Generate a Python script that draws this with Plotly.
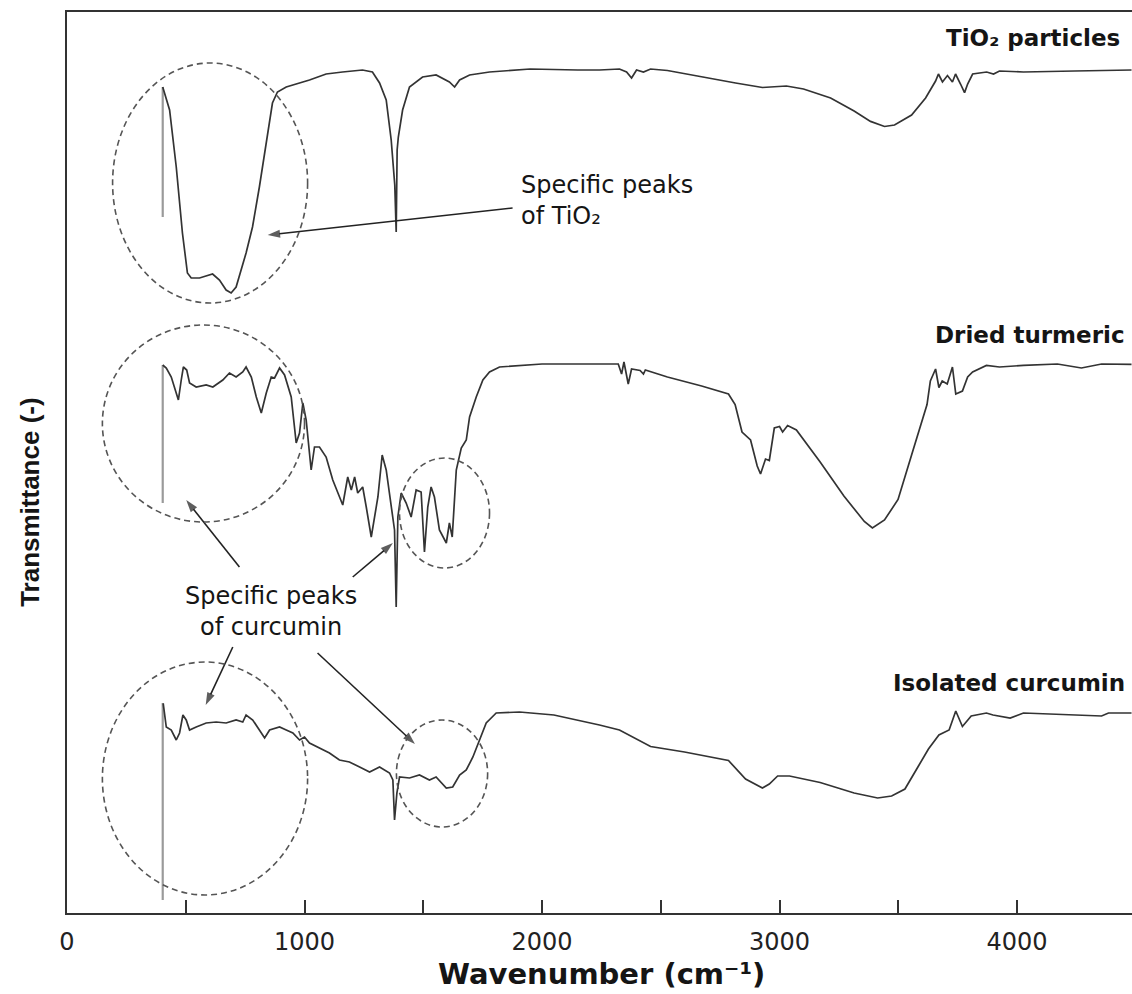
import plotly.graph_objects as go

# FTIR spectra (wavenumber in cm-1, transmittance in arbitrary offset units)
tio2_wn = [403, 432, 460, 486, 507, 523, 558, 613, 642, 670,
           691, 712, 754, 781, 810, 839, 865, 886, 923, 1021,
           1091, 1160, 1244, 1286, 1316, 1344, 1365, 1380, 1386, 1390,
           1395, 1413, 1442, 1497, 1554, 1610, 1632, 1653, 1695, 1779,
           1950, 2150, 2242, 2326, 2356, 2377, 2398, 2427, 2457, 2528,
           2672, 2815, 2928, 3029, 3101, 3215, 3314, 3383, 3442, 3484,
           3556, 3615, 3657, 3669, 3686, 3707, 3728, 3741, 3762, 3779,
           3792, 3813, 3872, 3901, 3926, 4027, 4242, 4482]
tio2_t = [82.6, 80.3, 74.6, 68.0, 64.0, 63.5, 63.5, 63.9, 63.3, 62.3,
          62.0, 62.6, 66.0, 68.6, 72.6, 77.3, 81.0, 82.1, 82.6, 83.3,
          83.9, 84.1, 84.3, 84.1, 83.0, 81.3, 77.3, 72.8, 68.1, 76.3,
          77.6, 80.3, 82.6, 83.6, 83.8, 83.1, 82.6, 83.3, 83.8, 84.1,
          84.4, 84.3, 84.3, 84.4, 84.1, 83.5, 84.3, 84.1, 84.4, 84.25,
          83.6, 83.0, 82.55, 82.7, 82.4, 81.5, 80.2, 79.16, 78.65, 78.8,
          79.8, 81.5, 83.2, 83.9, 83.1, 83.74, 83.1, 83.9, 82.9, 82.04,
          82.9, 83.9, 84.1, 83.9, 84.2, 84.1, 84.2, 84.3]

turmeric_wn = [403, 418, 439, 460, 469, 481, 490, 504, 516, 544,
               586, 614, 656, 684, 712, 740, 754, 776, 797, 818,
               839, 860, 874, 895, 916, 944, 965, 979, 993, 1007,
               1028, 1042, 1063, 1091, 1119, 1161, 1182, 1197, 1211, 1224,
               1245, 1260, 1281, 1309, 1327, 1344, 1365, 1379, 1386, 1393,
               1407, 1428, 1449, 1470, 1491, 1505, 1519, 1533, 1547, 1568,
               1597, 1610, 1622, 1639, 1660, 1681, 1695, 1723, 1751, 1779,
               1821, 2000, 2150, 2242, 2321, 2335, 2345, 2363, 2377, 2413,
               2427, 2435, 2528, 2672, 2785, 2813, 2842, 2878, 2906, 2920,
               2941, 2957, 2978, 3000, 3013, 3034, 3071, 3171, 3271, 3357,
               3391, 3442, 3499, 3556, 3600, 3621, 3635, 3657, 3671, 3685,
               3706, 3728, 3742, 3770, 3792, 3813, 3871, 3926, 4027, 4170,
               4271, 4356, 4482]
turmeric_t = [54.8, 54.5, 53.6, 52.0, 51.3, 53.3, 54.6, 54.3, 53.0, 52.6,
              52.8, 52.6, 53.3, 54.0, 53.6, 54.1, 54.6, 53.6, 51.6, 50.0,
              52.0, 53.6, 53.5, 54.5, 53.8, 51.6, 47.0, 48.0, 51.0, 49.3,
              44.3, 46.6, 46.6, 45.6, 43.3, 40.8, 43.6, 42.3, 43.6, 42.0,
              42.6, 40.6, 37.6, 41.6, 45.8, 44.3, 41.0, 38.3, 30.6, 39.6,
              42.0, 41.0, 39.6, 42.3, 42.1, 36.1, 40.6, 42.6, 41.6, 38.3,
              37.0, 39.0, 37.6, 44.3, 46.5, 47.3, 49.6, 51.6, 53.3, 54.1,
              54.6, 54.9, 54.9, 54.9, 54.9, 53.9, 55.1, 52.9, 54.4, 54.25,
              53.9, 54.3, 53.6, 52.7, 51.9, 50.85, 48.1, 47.3, 44.7, 43.9,
              45.4, 45.25, 48.5, 48.65, 48.1, 48.75, 48.3, 45.1, 41.7, 39.15,
              38.5, 39.3, 41.35, 45.8, 49.2, 50.85, 53.2, 54.4, 52.55, 53.2,
              52.9, 54.6, 51.9, 52.2, 53.6, 54.1, 54.76, 54.6, 54.76, 54.9,
              54.5, 54.9, 54.86]

curcumin_wn = [405, 418, 439, 460, 474, 488, 502, 516, 544, 586,
               628, 670, 712, 740, 754, 782, 810, 832, 853, 895,
               923, 951, 979, 1000, 1021, 1063, 1105, 1147, 1189, 1232,
               1274, 1316, 1358, 1372, 1379, 1389, 1400, 1442, 1484, 1526,
               1554, 1597, 1624, 1653, 1681, 1709, 1737, 1765, 1807, 1905,
               2050, 2150, 2242, 2326, 2457, 2600, 2785, 2857, 2928, 2957,
               2992, 3042, 3171, 3314, 3413, 3472, 3528, 3585, 3627, 3671,
               3714, 3742, 3770, 3807, 3871, 3899, 3971, 4027, 4242, 4356,
               4385, 4482]
curcumin_t = [20.97, 18.6, 18.3, 17.3, 18.0, 19.8, 19.3, 18.3, 18.6, 19.0,
              19.1, 19.0, 19.3, 19.1, 19.8, 19.3, 18.3, 17.5, 18.3, 18.6,
              18.3, 18.0, 17.3, 17.6, 17.0, 16.5, 16.0, 15.3, 15.1, 14.6,
              14.1, 14.6, 14.0, 13.3, 9.3, 12.0, 13.6, 13.5, 13.8, 13.3,
              13.6, 12.5, 12.6, 13.8, 14.3, 15.6, 17.3, 19.0, 20.0, 20.1,
              19.8, 19.3, 18.8, 18.3, 16.65, 16.1, 15.25, 13.4, 12.5, 12.9,
              13.7, 13.7, 13.05, 12.0, 11.5, 11.7, 12.4, 14.7, 16.4, 17.8,
              18.3, 20.2, 18.65, 19.7, 20.0, 19.8, 19.5, 20.0, 19.8, 19.7,
              20.0, 20.0]

# start-of-scan baseline jumps at the low-wavenumber end
edge_wn = 403
tio2_edge = [82.6, 69.6]
turmeric_edge = [54.8, 41.0]
curcumin_edge = [21.0, 1.3]

x_ticks = [0, 1000, 2000, 3000, 4000]

LINE = "#333333"
EDGE = "#9a9a9a"

fig = go.Figure()
for edge in (tio2_edge, turmeric_edge, curcumin_edge):
    fig.add_trace(go.Scatter(x=[edge_wn, edge_wn], y=edge, mode="lines",
                             line=dict(color=EDGE, width=2.2), hoverinfo="skip"))
for wn, t in ((tio2_wn, tio2_t), (turmeric_wn, turmeric_t), (curcumin_wn, curcumin_t)):
    fig.add_trace(go.Scatter(x=wn, y=t, mode="lines",
                             line=dict(color=LINE, width=1.7)))

# dashed rings around the characteristic bands
rings = [
    (192, 1013, 61.0, 85.0),
    (149, 1000, 39.1, 58.8),
    (1400, 1779, 34.5, 45.5),
    (149, 1013, 1.8, 25.1),
    (1387, 1771, 8.6, 19.3),
]
for x0, x1, y0, y1 in rings:
    fig.add_shape(type="circle", xref="x", yref="y", x0=x0, x1=x1, y0=y0, y1=y1,
                  line=dict(color="#555555", width=1.6, dash="6px,4px"))

# pointer arrows: (tail_x, tail_y, head_x, head_y); the head marker sits just short of the tip
arrows = [
    (1876, 70.5, 845, 67.8),
    (726, 34.6, 502, 41.3),
    (1203, 33.6, 1372, 37.0),
    (698, 26.6, 584, 20.8),
    (1055, 26.0, 1465, 16.9),
]
for tx, ty, hx, hy in arrows:
    fig.add_trace(go.Scatter(
        x=[tx, hx], y=[ty, hy], mode="lines+markers",
        line=dict(color="#222222", width=1.6),
        marker=dict(symbol="arrow", angleref="previous", size=[0, 13],
                    color="#1a1a1a", line=dict(width=0)),
        hoverinfo="skip"))

TXT = "#151515"
fig.add_annotation(x=1905, y=71.3, xref="x", yref="y", xanchor="left", yanchor="middle",
                   align="left", showarrow=False,
                   text="Specific peaks<br>of TiO₂",
                   font=dict(family="DejaVu Sans", size=24, color=TXT))
fig.add_annotation(x=857, y=30.2, xref="x", yref="y", xanchor="center", yanchor="middle",
                   align="center", showarrow=False,
                   text="Specific peaks<br>of curcumin",
                   font=dict(family="DejaVu Sans", size=24, color=TXT))

series_labels = [
    (4440, 87.5, "TiO₂ particles"),
    (4461, 57.8, "Dried turmeric"),
    (4465, 23.0, "Isolated curcumin"),
]
for lx, ly, txt in series_labels:
    fig.add_annotation(x=lx, y=ly, xref="x", yref="y", xanchor="right", yanchor="middle",
                       showarrow=False, text=txt,
                       font=dict(family="DejaVu Sans", size=23, color=TXT, weight="bold"))

# axis titles
fig.add_annotation(x=0.502, y=-0.068, xref="paper", yref="paper", xanchor="center",
                   yanchor="middle", showarrow=False,
                   text="Wavenumber (cm⁻¹)",
                   font=dict(family="DejaVu Sans", size=29, color=TXT, weight="bold"))
fig.add_annotation(x=-0.035, y=0.456, xref="paper", yref="paper", xanchor="center",
                   yanchor="middle", showarrow=False, textangle=-90,
                   text="Transmittance (-)",
                   font=dict(family="Liberation Sans", size=26, color=TXT, weight="bold"))

fig.update_layout(
    width=1132, height=994,
    margin=dict(l=67, r=0, t=12, b=81),
    paper_bgcolor="white", plot_bgcolor="white",
    showlegend=False,
    xaxis=dict(range=[0, 4484], tickvals=x_ticks, ticktext=[str(v) for v in x_ticks],
               ticks="inside", ticklen=13, tickwidth=1.5, tickcolor="#333333",
               ticklabelstandoff=6,
               minor=dict(dtick=500, tick0=0, ticks="inside", ticklen=13,
                          tickwidth=1.5, tickcolor="#333333"),
               showline=True, linecolor="#333333", linewidth=2, mirror=True,
               showgrid=False, zeroline=False,
               tickfont=dict(family="DejaVu Sans", size=24, color="#222222")),
    yaxis=dict(range=[0, 90.1], showline=True, linecolor="#333333", linewidth=2,
               mirror=False, showticklabels=False, ticks="", showgrid=False,
               zeroline=False),
)

fig.write_html("out.html")
